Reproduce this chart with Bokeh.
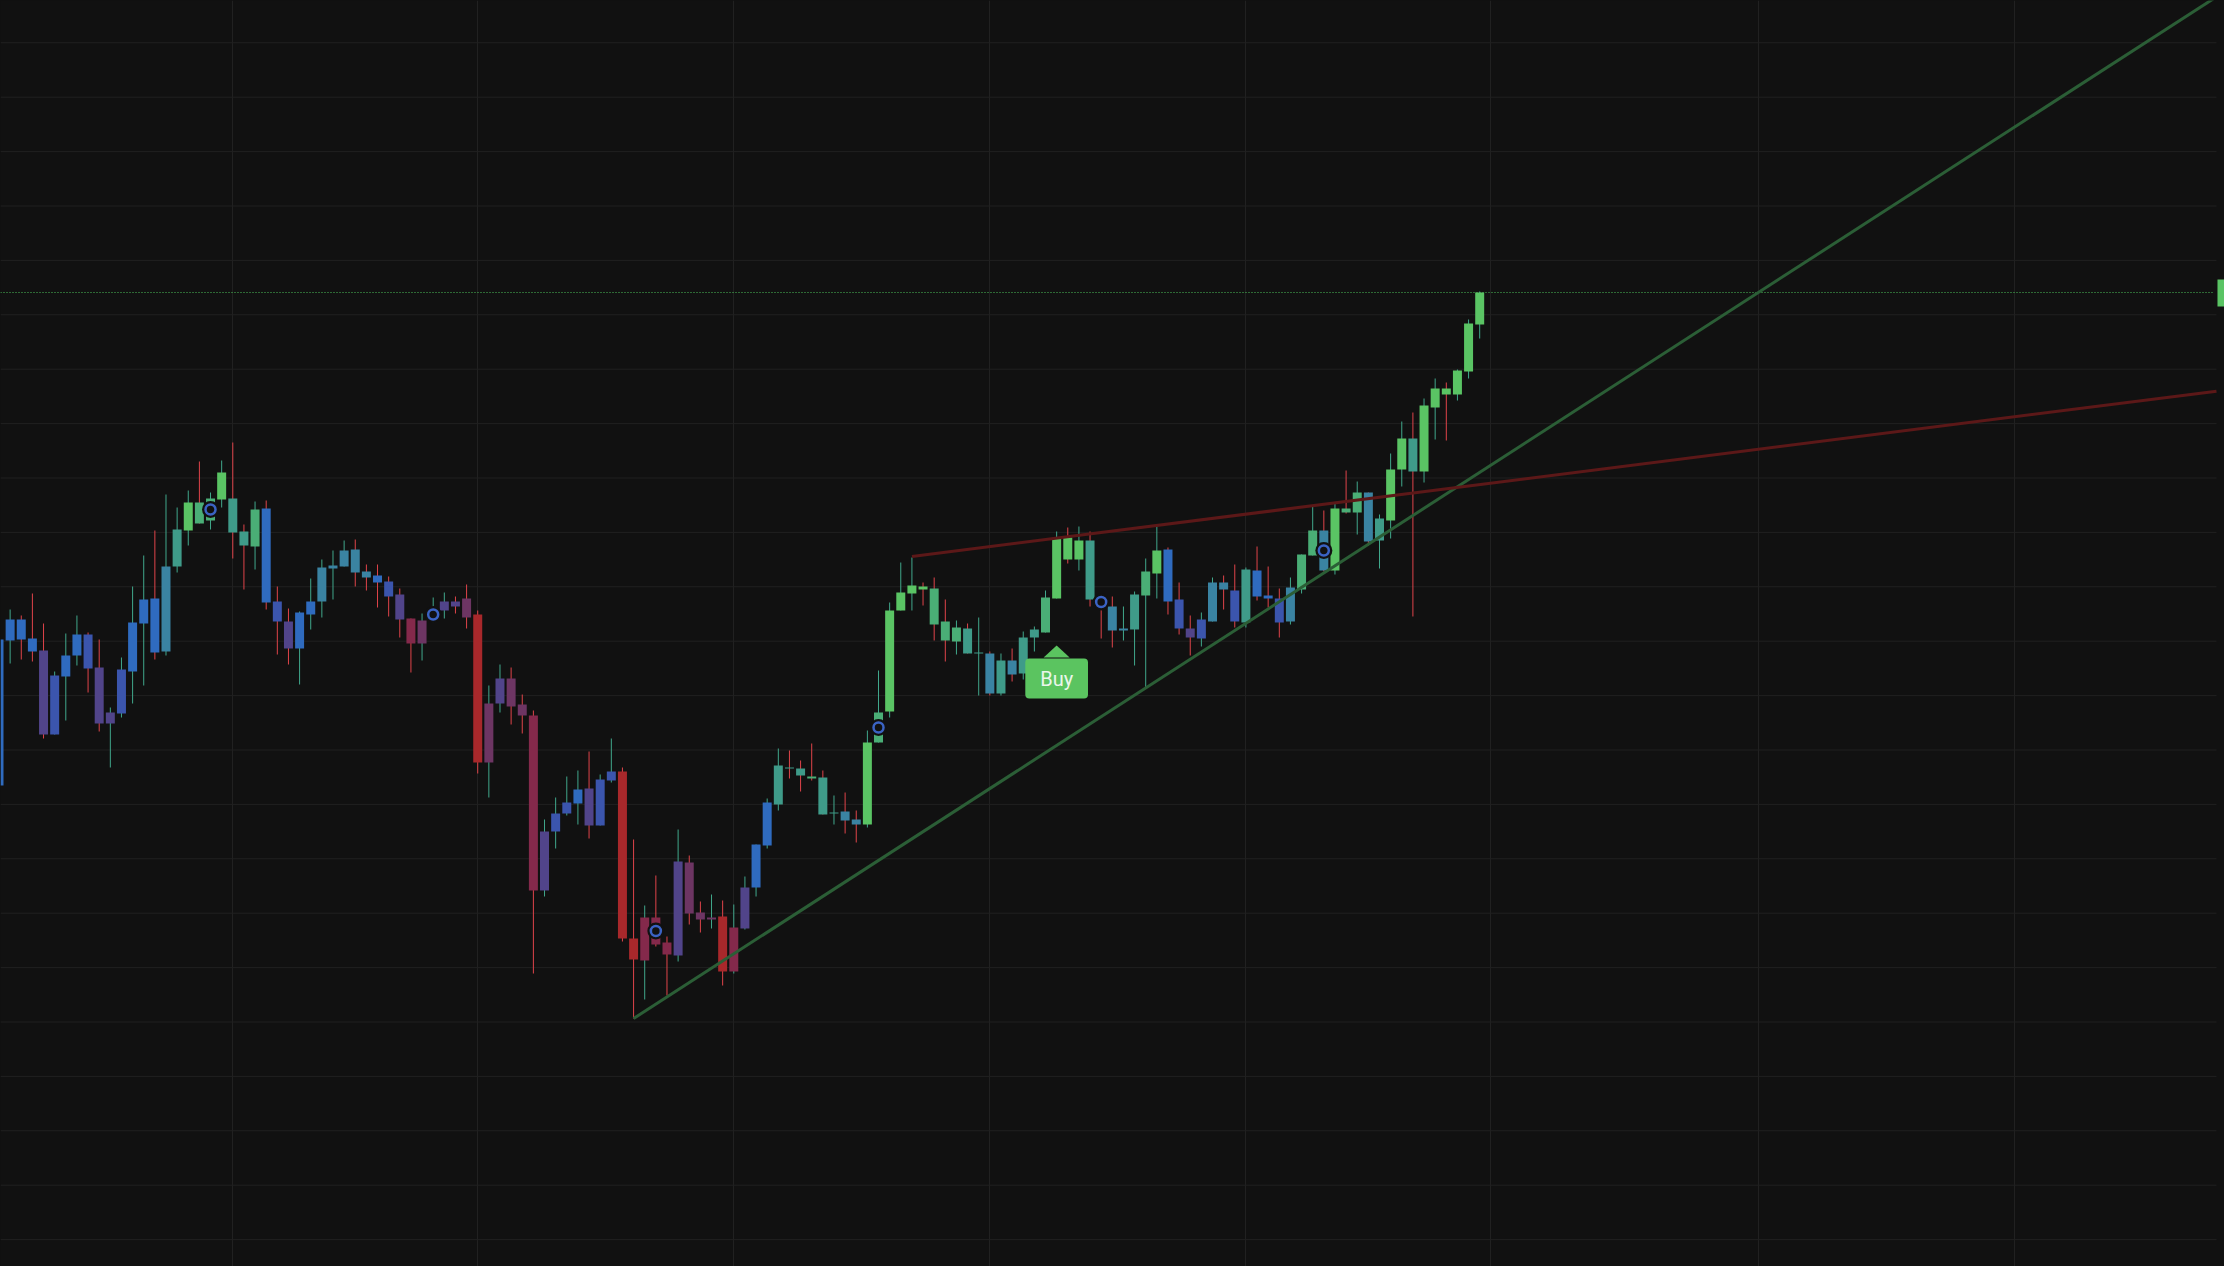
import numpy as np
from bokeh.plotting import figure
from bokeh.models import FixedTicker, ColumnDataSource
from bokeh.embed import file_html
from bokeh.resources import INLINE
from bokeh.core.properties import value

# ---------------- data ----------------
opens = [515, 660, 681, 662, 650, 566, 624, 645, 666, 633, 577, 587, 629, 677, 702, 649, 734, 770, 798, 780,
         801, 802, 769, 754, 792, 699, 679, 652, 686, 699, 732, 734, 751, 729, 725, 719, 706, 682, 657, 681,
         690, 699, 702, 686, 538, 597, 622, 596, 585, 410, 469, 487, 497, 512, 475, 520, 529, 362, 340, 383,
         358, 345, 438, 388, 381, 384, 329, 372, 413, 455, 496, 533, 532, 524, 523, 487, 489, 481, 476, 558,
         589, 690, 707, 714, 712, 679, 659, 672, 647, 647, 607, 640, 627, 663, 668, 702, 763, 741, 760, 701,
         694, 670, 671, 705, 727, 751, 701, 672, 662, 679, 718, 710, 678, 730, 705, 702, 679, 711, 745, 770,
         730, 792, 788, 808, 760, 780, 831, 862, 829, 893, 912, 906, 929, 976]
highs = [663, 691, 685, 707, 677, 629, 667, 685, 668, 661, 593, 643, 714, 745, 770, 806, 793, 810, 839, 808,
         840, 858, 776, 799, 800, 714, 692, 689, 722, 741, 750, 760, 761, 736, 736, 724, 712, 682, 687, 703,
         708, 704, 716, 690, 615, 636, 633, 606, 590, 481, 503, 524, 530, 549, 526, 562, 533, 461, 395, 425,
         364, 471, 445, 399, 406, 400, 396, 424, 456, 502, 552, 550, 540, 557, 530, 505, 508, 490, 570, 630,
         698, 738, 743, 718, 723, 701, 680, 677, 683, 649, 647, 652, 669, 674, 710, 769, 773, 774, 769, 704,
         704, 694, 709, 742, 774, 753, 718, 685, 688, 723, 725, 736, 733, 754, 734, 712, 723, 746, 795, 790,
         798, 830, 819, 808, 786, 847, 879, 888, 902, 922, 918, 931, 981, 1009]
lows = [513, 637, 641, 639, 562, 566, 580, 635, 608, 569, 533, 583, 597, 615, 641, 645, 728, 755, 777, 771,
        793, 742, 711, 731, 691, 646, 636, 616, 671, 683, 701, 734, 714, 710, 693, 684, 663, 628, 640, 678,
        682, 687, 672, 527, 503, 588, 576, 567, 327, 404, 452, 485, 476, 462, 475, 518, 359, 282, 301, 354,
        305, 339, 376, 368, 372, 315, 327, 371, 404, 452, 490, 522, 509, 520, 486, 476, 467, 458, 473, 558,
        583, 690, 690, 695, 660, 639, 646, 647, 605, 605, 605, 619, 621, 649, 668, 702, 737, 730, 694, 662,
        653, 660, 635, 612, 702, 686, 666, 645, 654, 679, 691, 673, 673, 700, 693, 663, 676, 707, 745, 729,
        726, 787, 766, 755, 732, 762, 814, 684, 818, 861, 860, 900, 922, 962]
closes = [661, 681, 661, 649, 566, 625, 645, 666, 632, 577, 588, 631, 678, 701, 648, 734, 771, 798, 777, 802,
          828, 768, 755, 791, 698, 679, 652, 688, 699, 733, 735, 750, 728, 723, 718, 704, 681, 657, 680, 691,
          699, 694, 683, 538, 597, 622, 594, 585, 410, 469, 487, 498, 511, 475, 521, 529, 362, 341, 383, 356,
          346, 439, 387, 381, 383, 329, 373, 413, 456, 498, 535, 532, 525, 522, 486, 488, 480, 476, 558, 588,
          690, 708, 715, 711, 676, 660, 673, 647, 648, 607, 640, 626, 663, 671, 703, 762, 741, 760, 701, 696,
          670, 672, 706, 729, 750, 699, 672, 663, 681, 718, 711, 679, 731, 704, 702, 678, 713, 746, 770, 730,
          792, 788, 808, 759, 782, 831, 862, 829, 895, 912, 906, 930, 977, 1008]
# indicator tone of each body (0 = weakest / red ... 9 = strongest / green)
tones = [5, 5, 5, 5, 3, 4, 5, 5, 4, 3, 3, 4, 5, 5, 5, 6, 7, 9, 8, 8,
         9, 7, 7, 8, 5, 4, 3, 5, 5, 6, 6, 6, 6, 6, 5, 4, 3, 1, 2, 3,
         3, 3, 2, 0, 2, 3, 2, 2, 1, 3, 4, 4, 5, 3, 4, 4, 0, 0, 1, 1,
         1, 3, 2, 2, 2, 0, 1, 3, 5, 5, 7, 7, 7, 8, 7, 7, 6, 6, 9, 8,
         9, 9, 9, 9, 8, 8, 8, 7, 7, 6, 7, 6, 7, 7, 8, 9, 9, 9, 7, 6,
         6, 6, 7, 8, 9, 5, 4, 3, 4, 6, 6, 4, 7, 5, 5, 4, 6, 8, 8, 6,
         9, 8, 8, 6, 7, 9, 9, 7, 9, 9, 9, 9, 9, 9]
month_starts = [21, 43, 66, 89, 112, 134, 158, 181]
signal_bars = [19, 39, 59, 79, 99, 119]
buy_bar = 95
support_line = {"x": [57, 200], "y": [282, 1309.6]}
resistance_line = {"x": [82, 199.18], "y": [744, 909.3]}

# ---------------- styling ----------------
BG = "#111111"
GRID = "#212121"
palette = ["#a8282b", "#84294b", "#6d3563", "#51448a", "#3b55ad",
           "#2f6bbf", "#3a83a2", "#3f9b89", "#4aae76", "#5ac464"]
UP_WICK = "#40a88c"
DN_WICK = "#e0444a"
X0, X_PANE_END, X1 = 0.1347, 199.18, 199.9   # left edge, end of price pane, right edge

idx = np.arange(len(opens))
o = np.array(opens, float)
c = np.array(closes, float)
src = ColumnDataSource(dict(
    x=idx, o=o, h=highs, l=lows, c=c,
    top=np.maximum(o, c), bottom=np.minimum(o, c),
    body=[palette[t] for t in tones],
    wick=[UP_WICK if cc >= oo else DN_WICK for oo, cc in zip(o, c)],
))

p = figure(width=2224, height=1266, x_range=(X0, X1), y_range=(34, 1300),
           x_axis_location=None, y_axis_location=None, toolbar_location=None,
           output_backend="svg", min_border=0, min_border_left=0, min_border_right=0,
           min_border_top=0, min_border_bottom=0,
           background_fill_color=BG, border_fill_color=BG, outline_line_color=None)

# vertical grid (month starts) spans full height
p.xgrid.ticker = FixedTicker(ticks=month_starts)
p.xgrid.grid_line_color = GRID
p.xgrid.grid_line_width = 1
p.ygrid.visible = False
# horizontal grid stops at the end of the price pane
hticks = [round(1257.7 - 54.4 * k, 1) for k in range(-1, 24)]
p.segment(x0=[X0] * len(hticks), x1=[X_PANE_END] * len(hticks), y0=hticks, y1=hticks,
          line_color=GRID, line_width=1)

# last price dotted line
p.segment(x0=[X0], x1=[199.0], y0=[closes[-1]], y1=[closes[-1]],
          line_color="#4cc35a", line_width=1, line_dash="1 2")

# candles
p.segment(x0="x", y0="l", x1="x", y1="h", source=src, line_color="wick", line_width=1)
p.vbar(x="x", width=0.808, top="top", bottom="bottom", source=src,
       fill_color="body", line_color=None)

# trend lines
p.line(support_line["x"], support_line["y"], line_color="#2b5e36", line_width=3)
p.line(resistance_line["x"], resistance_line["y"], line_color="#5c1818", line_width=3)

# signal circles
sig_y = [(opens[i] + closes[i]) / 2 for i in signal_bars]
p.scatter(signal_bars, sig_y, size=17, fill_color=BG, line_color=None)
p.scatter(signal_bars, sig_y, size=10, fill_color=BG, line_color="#3b63c4", line_width=2.5)

# Buy label under the buy bar
lb = lows[buy_bar]
p.quad(left=[buy_bar - 2.816], right=[buy_bar + 2.816], top=[lb - 60], bottom=[lb - 100],
       fill_color="#5bc460", line_color=None, border_radius=4)
p.patch([buy_bar - 1.17, buy_bar, buy_bar + 1.17], [lb - 59, lb - 47, lb - 59],
        fill_color="#5bc460", line_color=None)
p.text(x=[buy_bar], y=[lb - 80], text=["Buy"], text_align="center", text_baseline="middle",
       text_font=value("Roboto"), text_font_size="20px", text_color="#eaf6eb")

# last-price tag on the (clipped) price scale
p.quad(left=[199.27], right=[202], top=[closes[-1] + 13], bottom=[closes[-1] - 14],
       fill_color="#5ac464", line_color=None)

html = file_html(p, INLINE)
html = html.replace("<head>", "<head><style>html,body{background-color:#111111;}</style>", 1)
open("out.html", "w").write(html)
